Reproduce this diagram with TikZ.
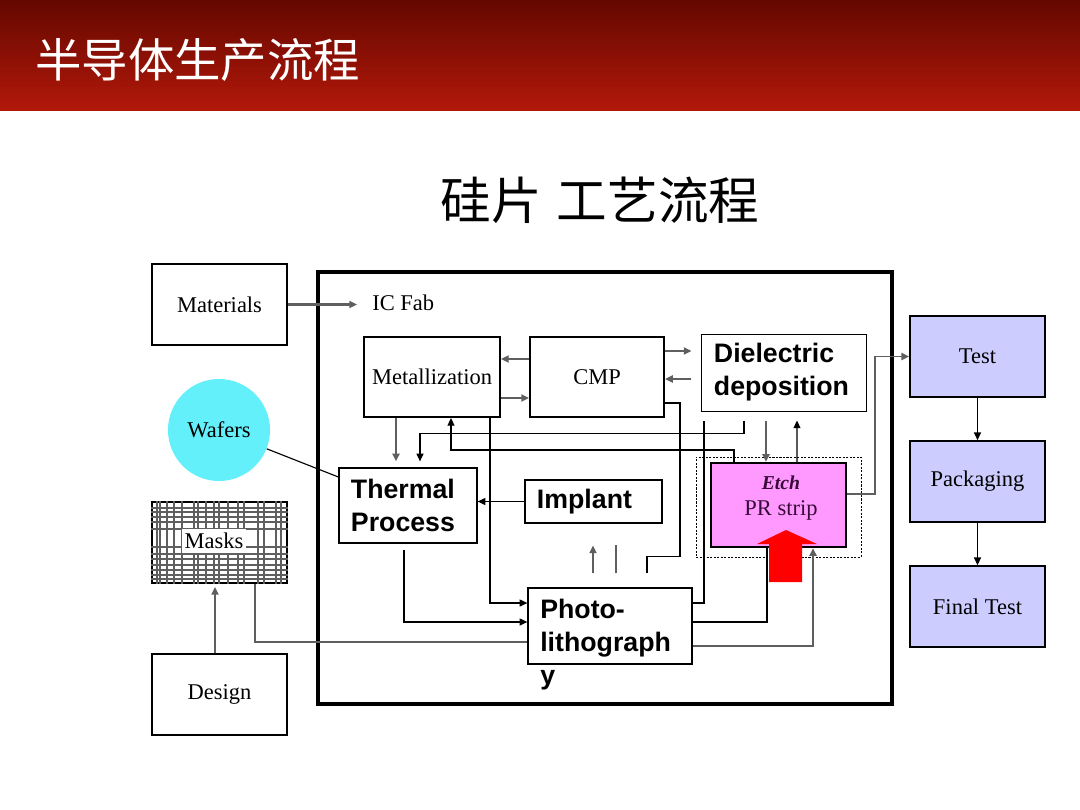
\documentclass[tikz,border=0pt]{standalone}
\usepackage{fontspec}
\setmainfont{Liberation Serif}
\setsansfont{Liberation Sans}
\newfontfamily\cjk{Noto Sans CJK SC}
\usepackage{tikz}
\usetikzlibrary{arrows.meta,positioning,calc}
\definecolor{hdtop}{RGB}{100,8,0}
\definecolor{hdbot}{RGB}{178,24,10}
\definecolor{waferc}{RGB}{100,240,250}
\definecolor{etchc}{RGB}{255,153,255}
\definecolor{etchtxt}{RGB}{55,10,55}
\definecolor{testc}{RGB}{204,204,255}
\definecolor{lgrey}{RGB}{95,95,95}

\begin{document}
\begin{tikzpicture}[x=0.025cm, y=-0.025cm,
  main node/.style={rectangle,draw,line width=1.4pt,minimum width=3.375cm,minimum height=2.025cm,font=\fontsize{16}{19}\selectfont},
  test node/.style={main node,line width=1.2pt,fill=testc},
  bold text/.style={align=left,font=\sffamily\bfseries\fontsize{19}{23.5}\selectfont},
  bold node/.style={rectangle,draw,line width=0.9pt,inner xsep=0.3cm,bold text},
  thin line/.style={draw,line width=0.8pt},
  grey line/.style={draw=lgrey,line width=1.8pt},
  arr/.style={-{Triangle[length=5.5pt,width=5pt]}}]

\useasboundingbox (0,0) rectangle (1080,810);
\shade[top color=hdtop,bottom color=hdbot] (0,0) rectangle (1080,110);
\node[anchor=west,inner sep=0pt,text=white,font=\cjk\fontsize{33}{40}\selectfont] (title) at (35,60) {半导体生产流程};
\node[font=\cjk\fontsize{36}{43}\selectfont] (subtitle) at (600,200) {硅片\hspace{0.3em}工艺流程};

\node[main node] (Mat) at (219.5,304.5) {Materials};
\node[circle,fill=waferc,minimum size=2.55cm,font=\fontsize{16}{19}\selectfont] (Waf) at (219,430) {Wafers};
\node[main node] (Mask) at (219.5,542.5) {};
\foreach \gx in {6,9,16,23,31,43,47,55,63,68,77,87,93,107,113,125,130}
  \draw[lgrey,line width=1pt] ($(Mask.north west)+(\gx,0)$) -- ($(Mask.south west)+(\gx,0)$);
\foreach \gy in {7,11,16,21,28,46,53,58,64,69,74,78}
  \draw[lgrey,line width=1pt] ($(Mask.north west)+(0,\gy)$) -- ($(Mask.north east)+(0,\gy)$);
\node[fill=white,inner xsep=2pt,inner ysep=3pt,font=\fontsize{16}{19}\selectfont] (masklbl) at (214,541) {Masks};
\node[main node,node distance=3.7875cm,below of=Mask] (Des) {Design};

\node[draw,line width=2.3pt,minimum width=14.35cm,minimum height=10.8cm] (Fab) at (605,488) {};
\node[anchor=west,inner sep=0pt,font=\fontsize{16}{19}\selectfont] (icfab) at (372,303) {IC Fab};

\node[main node,minimum width=3.4cm,minimum height=2cm] (Met) at (432,377) {Metallization};
\node[main node,minimum width=3.35cm,minimum height=2cm,node distance=4.125cm,right of=Met] (CMP) {CMP};
\node[bold node,line width=0.7pt,text width=3.5cm,minimum height=1.925cm] (Die) at (784,372.5) {Dielectric\\deposition};
\node[bold node,text width=2.85cm,minimum height=1.875cm] (Th) at (408,505.5) {Thermal\\Process};
\node[bold node,text width=2.825cm,minimum height=1.075cm] (Imp) at (593.5,501.5) {Implant};
\node[bold node,minimum width=4.1cm,minimum height=1.9cm] (Pho) at (610,626) {};
\node[bold text,anchor=north west,inner sep=0pt] (pholbl) at (540,599) {Photo-\\lithograph\\y};

\node[draw,line width=0.6pt,dash pattern=on 1.5pt off 1pt,minimum width=4.125cm,minimum height=2.5cm] (EtchBox) at (778.5,507) {};
\node[draw,line width=1.6pt,fill=etchc,minimum width=3.375cm,minimum height=2.1cm] (Etch) at (778.5,505) {};
\node[align=center,text=etchtxt,font=\fontsize{16}{18.5}\selectfont] (etchlbl) at (781,498) {\fontsize{14}{18.5}\selectfont\textbf{\textit{Etch}}\\PR strip};

\node[test node] (Test) at (977.5,356.5) {Test};
\node[test node,node distance=3.125cm,below of=Test] (Pack) {Packaging};
\node[test node,node distance=3.125cm,below of=Pack] (Fin) {Final Test};

\draw[grey line,arr] (Mat.east) -- ($(Mat.east -| icfab.west)+(-15,0)$);
\draw[grey line,arr] ($(CMP.west)+(0,-18)$) -- ($(Met.east)+(0,-18)$);
\draw[grey line,arr] ($(Met.east)+(0,21)$) -- ($(CMP.west)+(0,21)$);
\draw[grey line,arr] ($(CMP.east)+(0,-26)$) -- ($(Die.west)+(-10,-21.5)$);
\draw[grey line,arr] ($(Die.west)+(-10,6.5)$) -- ($(CMP.east)+(0,2)$);
\draw[thin line] ($(CMP.east)+(0,26)$) -| ($(Pho.north)+(70,-31)$) -| ($(Pho.north)+(37,-14)$);
\draw[grey line,line width=1.2pt,arr] ($(Pho.north)+(-17,-14)$) -- ($(Pho.north)+(-17,-42)$);
\draw[grey line,line width=1.2pt] ($(Pho.north)+(6,-14)$) -- ($(Pho.north)+(6,-42)$);
\draw[grey line,arr] ($(Met.south)+(-36,0)$) -- ($(Th.north)+(-12,-6)$);
\draw[thin line,arr] ($(Die.south)+(-40,9)$) |- ($(Th.north)+(12,-34)$) -- ($(Th.north)+(12,-6)$);
\draw[thin line,arr] ($(Etch.north)+(-44.5,0)$) |- ($(Met.south)+(19,32)$) -- ($(Met.south)+(19,0)$);
\draw[thin line,arr] ($(Met.south)+(58,0)$) |- ($(Pho.west)+(0,-23)$);
\draw[thin line] ($(Pho.east)+(0,-23)$) -| ($(Die.south)+(-80,9)$);
\draw[grey line,arr] ($(Die.south)+(-18,9)$) -- ($(Etch.north)+(-12.5,0)$);
\draw[thin line,arr] ($(Etch.north)+(18.5,0)$) -- ($(Die.south)+(13,9)$);
\draw[thin line] (Waf) -- ($(Th.west)+(0,-28.5)$);
\draw[thin line,arr] (Imp.west) -- (Imp.west -| Th.east);
\draw[thin line,arr] ($(Th.south)+(-4,6)$) |- ($(Pho.west)+(0,-4)$);
\draw[grey line] ($(Mask.south)+(35.5,0)$) |- ($(Pho.west)+(0,16)$);
\draw[grey line,arr] ($(Des.north)+(-4.5,0)$) -- ($(Mask.south)+(-4.5,3)$);
\draw[thin line] ($(Pho.east)+(0,-4)$) -| ($(Etch.south)+(-11.5,0)$);
\draw[grey line,arr] ($(Pho.east)+(0,20)$) -| ($(Etch.south)+(34.5,0)$);
\draw[grey line,line width=1.4pt,arr] ($(Etch.east)+(0,-11)$) -| ($(Test.west)+(-34,0)$) -- (Test.west);
\path[thin line,arr] (Test) edge (Pack) (Pack) edge (Fin);

\fill[red] (769,582) -- (769,544) -- (757,544) -- (786,530) -- (817,544) -- (802,544) -- (802,582) -- cycle;
\end{tikzpicture}
\end{document}
